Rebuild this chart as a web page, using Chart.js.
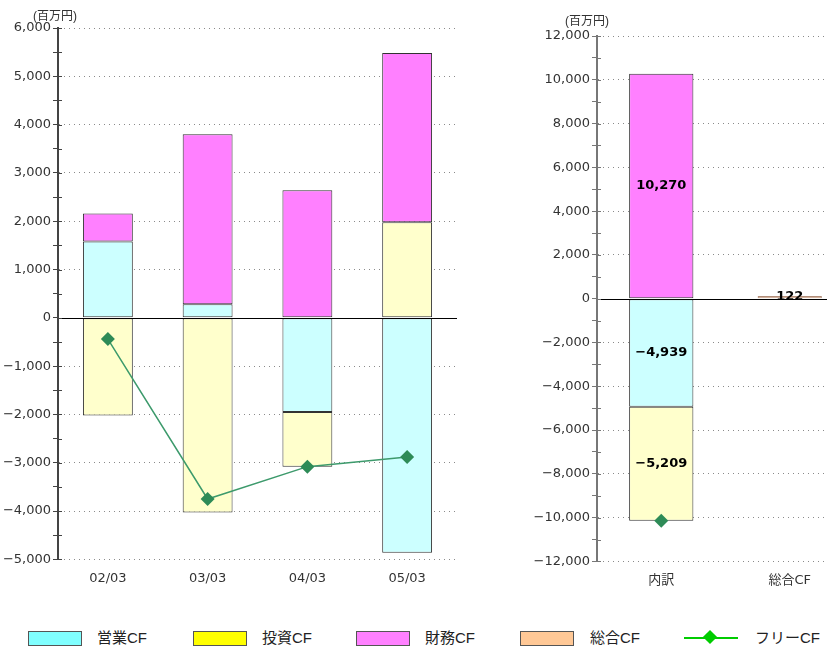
<!DOCTYPE html>
<html lang="ja">
<head>
<meta charset="utf-8">
<script src="https://cdn.jsdelivr.net/npm/chart.js@4.4.1/dist/chart.umd.min.js"></script>
<style>
  html, body { margin: 0; padding: 0; overflow: hidden; background: #fff; }
  body { width: 827px; height: 647px; position: relative;
         font-family: "Liberation Sans", "Noto Sans CJK JP", sans-serif; }
  canvas { position: absolute; top: 0; }
  #graph_left { left: 0; }
  #graph_right { left: 520px; }
  .unit { position: absolute; font-size: 12px; color: #333; }
  .legend_item { position: absolute; top: 628px; height: 20px; display: flex; align-items: center; }
  .legend_box { width: 52px; height: 13px; border: 1px solid #555; box-sizing: content-box; }
  .legend_text { position: absolute; font-size: 15px; color: #222; white-space: nowrap; top: 0; line-height: 20px; }
  .legend_line { width: 54px; height: 2px; background: #00cc00; position: relative; }
  .legend_line::after { content: ""; position: absolute; left: 21px; top: -5px; width: 10px; height: 10px;
                        background: #00cc00; transform: rotate(45deg); }
</style>
</head>
<body>
<canvas id="graph_left" width="464" height="589"></canvas>
<canvas id="graph_right" width="341" height="591"></canvas>
<div class="unit" style="left:33px; top:6px;">(百万円)</div>
<div class="unit" style="left:565px; top:11px;">(百万円)</div>
<div id="legend"></div>

<script>
"use strict";

// 年度別キャッシュフロー (百万円)
const years = ["02/03", "03/03", "04/03", "05/03"];
const eigyo_cf = [1580, 280, -1950, -4860];
const toushi_cf = [-2020, -4030, -1130, 1980];
const zaimu_cf = [580, 3520, 2640, 3500];
const free_cf = [-440, -3750, -3080, -2880];

// 累計の内訳と総合CF
const sum_labels = ["内訳", "総合CF"];
const sum_eigyo = [-4939, null];
const sum_toushi = [-5209, null];
const sum_zaimu = [10270, null];
const sum_sougou = [null, 122];
const sum_free = [-10148, null];

const legend_items = [
  { label: "営業CF", color: "#80ffff", x: 28, text_x: 97 },
  { label: "投資CF", color: "#ffff00", x: 193, text_x: 262 },
  { label: "財務CF", color: "#ff80ff", x: 356, text_x: 425 },
  { label: "総合CF", color: "#ffc896", x: 520, text_x: 590 },
  { label: "フリーCF", line: true, x: 684, text_x: 755 },
];

const font_family = '"DejaVu Sans", "Noto Sans CJK JP", sans-serif';
const border_color = "#333";

function format_value(value) {
  const text = Math.abs(value).toLocaleString("en-US");
  return value < 0 ? "\u2212" + text : text;
}

// 0の線は実線で引く
const zero_line = {
  id: "zero_line",
  afterDatasetsDraw(chart) {
    const { ctx, chartArea, scales } = chart;
    const y = Math.round(scales.y.getPixelForValue(0)) + 0.5;
    ctx.save();
    ctx.strokeStyle = "#000";
    ctx.lineWidth = 1;
    ctx.beginPath();
    ctx.moveTo(chartArea.left, y);
    ctx.lineTo(chartArea.right, y);
    ctx.stroke();
    ctx.restore();
  },
};

// 目盛り線を軸の内側にも少し出す
const inner_ticks = {
  id: "inner_ticks",
  afterDraw(chart) {
    const { ctx, scales } = chart;
    const y_scale = scales.y;
    ctx.save();
    ctx.strokeStyle = y_scale.options.grid.tickColor;
    ctx.lineWidth = 1;
    y_scale.ticks.forEach((tick) => {
      const y = Math.round(y_scale.getPixelForValue(tick.value)) + 0.5;
      ctx.beginPath();
      ctx.moveTo(y_scale.right, y);
      ctx.lineTo(y_scale.right + 4, y);
      ctx.stroke();
    });
    ctx.restore();
  },
};

// 棒の中央に数値を書く
const bar_values = {
  id: "bar_values",
  afterDraw(chart) {
    const ctx = chart.ctx;
    ctx.save();
    ctx.font = "bold 13px " + font_family;
    ctx.fillStyle = "#000";
    ctx.textAlign = "center";
    ctx.textBaseline = "middle";
    chart.data.datasets.forEach((dataset, i) => {
      if (dataset.type === "line") return;
      const meta = chart.getDatasetMeta(i);
      meta.data.forEach((bar, j) => {
        const value = dataset.data[j];
        if (value === null || value === undefined) return;
        ctx.fillText(format_value(value), bar.x, (bar.y + bar.base) / 2);
      });
    });
    ctx.restore();
  },
};

function bar_dataset(label, data, color, edge) {
  return {
    type: "bar",
    label: label,
    data: data,
    backgroundColor: color,
    borderColor: edge || border_color,
    borderWidth: 1,
    borderSkipped: false,
    stack: "cf",
    categoryPercentage: 1,
    barPercentage: 0.5,
    order: 2,
  };
}

function line_dataset(data, show_line) {
  return {
    type: "line",
    label: "フリーCF",
    data: data,
    borderColor: "#3d9a6c",
    borderWidth: 1.5,
    backgroundColor: "#2e8b57",
    pointStyle: "rectRot",
    pointRadius: 7,
    pointHoverRadius: 7,
    pointBorderWidth: 0,
    showLine: show_line,
    stack: "free",
    order: 1,
  };
}

function create_config(labels, datasets, range, plugins, axis_width, top_pad, axis_color) {
  return {
    data: { labels: labels, datasets: datasets },
    plugins: plugins,
    options: {
      responsive: false,
      animation: false,
      events: [],
      layout: { padding: { top: top_pad, right: 0, left: 0, bottom: 0 } },
      plugins: { legend: { display: false }, tooltip: { enabled: false } },
      scales: {
        x: {
          stacked: true,
          offset: true,
          grid: { display: false },
          border: { display: false },
          ticks: { color: "#333", font: { family: font_family, size: 13 }, padding: 3 },
        },
        y: {
          stacked: true,
          min: range.min,
          max: range.max,
          afterFit(scale) {
            scale.width = axis_width;
          },
          border: { display: true, color: axis_color, width: 2, dash: [1, 4] },
          grid: {
            color: (ctx) => {
              const v = ctx.tick ? ctx.tick.value : 0;
              return v % range.major === 0 && v !== 0 ? "#8a8a8a" : "rgba(0,0,0,0)";
            },
            tickColor: axis_color,
            tickLength: 5,
            lineWidth: 1,
          },
          ticks: {
            stepSize: range.major / 2,
            autoSkip: false,
            color: "#333",
            padding: 2,
            font: { family: font_family, size: 13 },
            callback: (value) => (value % range.major === 0 ? format_value(value) : ""),
          },
        },
      },
    },
  };
}

new Chart(
  document.getElementById("graph_left"),
  create_config(
    years,
    [
      bar_dataset("営業CF", eigyo_cf, "#ccffff"),
      bar_dataset("投資CF", toushi_cf, "#ffffcc"),
      bar_dataset("財務CF", zaimu_cf, "#ff80ff"),
      line_dataset(free_cf, true),
    ],
    { min: -5000, max: 6000, major: 1000 },
    [zero_line, inner_ticks],
    58,
    28,
    "#444"
  )
);

new Chart(
  document.getElementById("graph_right"),
  create_config(
    sum_labels,
    [
      bar_dataset("営業CF", sum_eigyo, "#ccffff"),
      bar_dataset("投資CF", sum_toushi, "#ffffcc"),
      bar_dataset("財務CF", sum_zaimu, "#ff80ff"),
      bar_dataset("総合CF", sum_sougou, "#f7c9a9", "#b08c78"),
      line_dataset(sum_free, false),
    ],
    { min: -12000, max: 12000, major: 2000 },
    [zero_line, inner_ticks, bar_values],
    77,
    36,
    "#777"
  )
);

// 凡例
const legend = document.getElementById("legend");
legend_items.forEach((item) => {
  const box = document.createElement("div");
  box.className = "legend_item";
  box.style.left = item.x + "px";
  const mark = document.createElement("div");
  if (item.line) {
    mark.className = "legend_line";
  } else {
    mark.className = "legend_box";
    mark.style.background = item.color;
  }
  box.appendChild(mark);
  legend.appendChild(box);

  const text = document.createElement("div");
  text.className = "legend_text";
  text.style.left = item.text_x + "px";
  text.style.top = "628px";
  text.textContent = item.label;
  legend.appendChild(text);
});
</script>
</body>
</html>
